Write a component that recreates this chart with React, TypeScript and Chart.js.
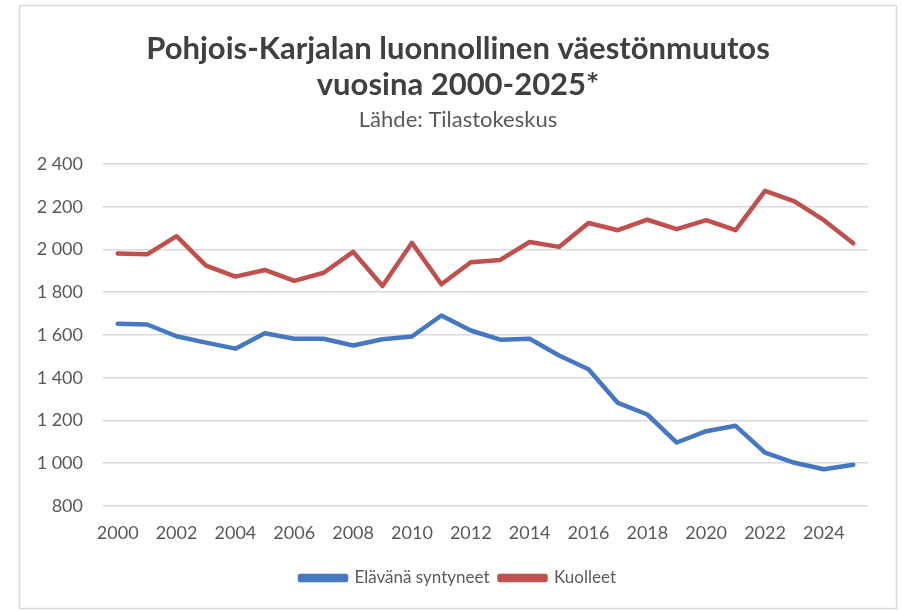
import React, { useEffect, useRef } from "react";
import { Chart, registerables } from "chart.js";

Chart.register(...registerables);

const years: string[] = [
  "2000", "2001", "2002", "2003", "2004", "2005", "2006", "2007", "2008", "2009",
  "2010", "2011", "2012", "2013", "2014", "2015", "2016", "2017", "2018", "2019",
  "2020", "2021", "2022", "2023", "2024", "2025",
];

const births: number[] = [
  1652, 1649, 1594, 1564, 1536, 1608, 1582, 1582, 1551, 1580,
  1593, 1691, 1621, 1578, 1582, 1504, 1440, 1282, 1228, 1097,
  1150, 1175, 1050, 1002, 972, 993,
];

const deaths: number[] = [
  1981, 1977, 2062, 1924, 1873, 1904, 1853, 1891, 1989, 1829,
  2031, 1837, 1940, 1951, 2035, 2012, 2124, 2090, 2139, 2095,
  2137, 2090, 2274, 2225, 2137, 2029,
];

const seriesNames: string[] = ["Elävänä syntyneet", "Kuolleet"];
const titleLines: string[] = ["Pohjois-Karjalan luonnollinen väestönmuutos", "vuosina 2000-2025*"];
const subtitleText = "Lähde: Tilastokeskus";

const FONT = "Lato, 'Open Sans', 'DejaVu Sans', sans-serif";

const fmt = (v: number) => {
  if (v >= 1000) {
    const t = Math.floor(v / 1000);
    const r = String(v % 1000).padStart(3, "0");
    return `${t} ${r}`;
  }
  return String(v);
};

const framePlugin = {
  id: "frame",
  beforeDraw(chart: any) {
    const ctx = chart.ctx;
    ctx.save();
    ctx.fillStyle = "#ffffff";
    ctx.fillRect(0, 0, chart.width, chart.height);
    ctx.strokeStyle = "#d9d9d9";
    ctx.lineWidth = 1.5;
    ctx.strokeRect(19.5, 5.5, 877, 603);
    ctx.restore();
  },
};

export default function App() {
  const ref = useRef<HTMLCanvasElement | null>(null);

  useEffect(() => {
    if (!ref.current) return;
    const chart = new Chart(ref.current, {
      type: "line",
      data: {
        labels: years,
        datasets: [
          {
            label: seriesNames[0],
            data: births,
            borderColor: "#4677C3",
            backgroundColor: "#4677C3",
            borderWidth: 4.5,
            pointRadius: 0,
            tension: 0,
            borderCapStyle: "round",
            borderJoinStyle: "round",
          },
          {
            label: seriesNames[1],
            data: deaths,
            borderColor: "#C0504D",
            backgroundColor: "#C0504D",
            borderWidth: 4.5,
            pointRadius: 0,
            tension: 0,
            borderCapStyle: "round",
            borderJoinStyle: "round",
          },
        ],
      },
      options: {
        responsive: false,
        animation: false,
        events: [],
        layout: { padding: { left: 20, right: 6, top: 0, bottom: 14.5 } },
        plugins: {
          title: {
            display: true,
            text: titleLines,
            color: "#404040",
            font: { family: FONT, size: 31, weight: "bold", lineHeight: 1.17 },
            padding: { top: 31, bottom: 3 },
          },
          subtitle: {
            display: true,
            text: subtitleText,
            color: "#595959",
            font: { family: FONT, size: 22, lineHeight: 1.2 },
            padding: { top: 0, bottom: 31 },
          },
          legend: {
            position: "bottom",
            labels: {
              boxWidth: 46,
              boxHeight: 4,
              color: "#595959",
              font: { family: FONT, size: 17 },
              padding: 10,
            },
          },
          tooltip: { enabled: false },
        },
        scales: {
          x: {
            offset: true,
            grid: { display: false, drawTicks: false },
            border: { display: false },
            ticks: {
              autoSkip: false,
              maxRotation: 0,
              color: "#595959",
              font: { family: FONT, size: 18 },
              padding: 16,
              callback: (_v: any, i: number) => (i % 2 === 0 ? years[i] : ""),
            },
            afterFit: (s: any) => {
              s.height = 53.5;
            },
          },
          y: {
            min: 800,
            max: 2400,
            grid: { color: "#d9d9d9", lineWidth: 1.5, drawTicks: false },
            border: { display: false },
            ticks: {
              stepSize: 200,
              color: "#595959",
              font: { family: FONT, size: 18 },
              padding: 20,
              callback: (v: any) => fmt(Number(v)),
            },
            afterFit: (s: any) => {
              s.width = 83;
            },
          },
          yRight: {
            position: "right",
            display: true,
            min: 800,
            max: 2400,
            grid: { display: false, drawTicks: false },
            border: { display: false },
            ticks: { display: false },
            afterFit: (s: any) => {
              s.width = 28;
            },
          },
        },
      },
      plugins: [framePlugin],
    });
    return () => chart.destroy();
  }, []);

  return (
    <div style={{ position: "absolute", left: 0, top: 0, width: 902, height: 611 }}>
      <canvas ref={ref} width={902} height={611} style={{ display: "block" }} />
    </div>
  );
}
